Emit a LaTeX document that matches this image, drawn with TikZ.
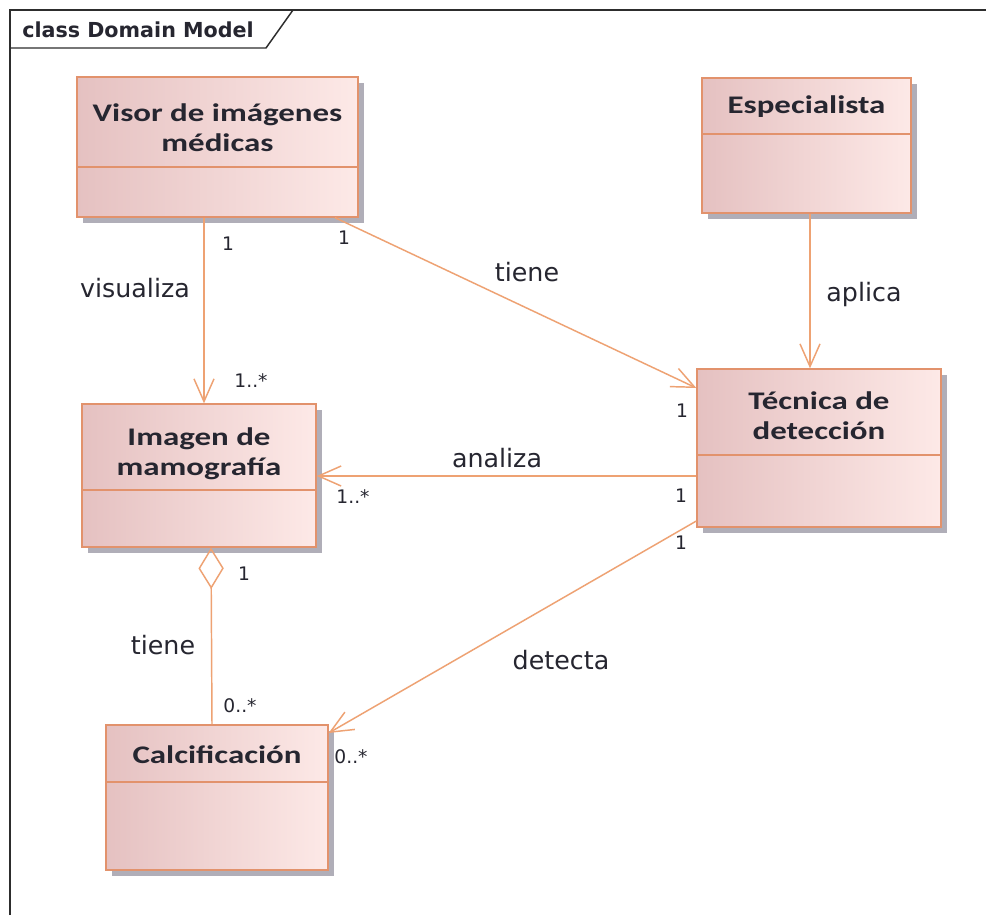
\documentclass[tikz,border=0pt]{standalone}
\usepackage{fontspec}
\setmainfont{DejaVu Sans}
\newfontfamily\classfont[FakeStretch=1.3]{Carlito}
\newfontfamily\framefont{DejaVu Sans}
\usetikzlibrary{arrows.meta,shadows}

\definecolor{assoc}{RGB}{238,162,115}
\definecolor{boxline}{RGB}{226,146,108}
\definecolor{boxL}{RGB}{229,193,193}
\definecolor{boxR}{RGB}{253,233,231}
\definecolor{shadowgray}{RGB}{176,174,184}
\definecolor{txt}{RGB}{38,38,48}
\definecolor{frameline}{RGB}{45,45,45}

\tikzset{
  classbox/.style={draw=boxline, line width=1pt, left color=boxL, right color=boxR,
    drop shadow={shadow xshift=4.5pt, shadow yshift=-4.5pt, fill=shadowgray, opacity=1},
    inner sep=0pt},
  classtitle/.style={font=\classfont\bfseries\fontsize{19}{22.5}\selectfont,
    align=center, text=txt, inner sep=0pt},
  divider/.style={draw=boxline, line width=1pt},
  assocline/.style={draw=assoc, line width=1.1pt},
  navarrow/.style={-{Straight Barb[length=17pt,width=15pt,line width=1.1pt]}},
  aggregate/.style={{Diamond[open,length=31pt,width=19pt,line width=1.1pt]}-},
  rolename/.style={font=\fontsize{19}{21}\selectfont, text=txt, inner sep=0pt},
  mult/.style={font=\fontsize{14}{16}\selectfont, text=txt, inner sep=0pt},
}

\begin{document}
\begin{tikzpicture}[x=0.75pt,y=-0.75pt]
  \useasboundingbox[fill=white] (0,0) rectangle (986,915);

  % diagram frame with its name tab
  \draw[draw=frameline, line width=1.1pt] (10,915) -- (10,10) -- (986,10);
  \draw[draw=frameline, line width=1.1pt] (10,48) -- (266,48) -- (293,10);
  \node[font=\framefont\bfseries\fontsize{15.5}{17}\selectfont, text=txt, anchor=west, inner sep=0pt]
    (frametitle) at (22,30) {class Domain Model};

  % classes
  \node[classbox, minimum width=210.75pt, minimum height=105pt] (visor) at (217.5,147) {};
  \draw[divider] (visor.west |- 0,167) -- (visor.east |- 0,167);
  \node[classtitle] (visortitle) at (217.5,128) {Visor de imágenes\\médicas};

  \node[classbox, minimum width=156.75pt, minimum height=101.25pt] (esp) at (806.5,145.5) {};
  \draw[divider] (esp.west |- 0,134) -- (esp.east |- 0,134);
  \node[classtitle] (esptitle) at (806.5,107) {Especialista};

  \node[classbox, minimum width=183pt, minimum height=118.5pt] (tec) at (819,448) {};
  \draw[divider] (tec.west |- 0,455) -- (tec.east |- 0,455);
  \node[classtitle] (tectitle) at (819,416) {Técnica de\\detección};

  \node[classbox, minimum width=175.5pt, minimum height=107.25pt] (img) at (199,475.5) {};
  \draw[divider] (img.west |- 0,490) -- (img.east |- 0,490);
  \node[classtitle] (imgtitle) at (199,454) {Imagen de\\mamografía};

  \node[classbox, minimum width=166.5pt, minimum height=108.75pt] (calc) at (217,797.5) {};
  \draw[divider] (calc.west |- 0,782) -- (calc.east |- 0,782);
  \node[classtitle] (calctitle) at (217,755) {Calcificación};

  % associations
  \draw[assocline, navarrow] (204,0 |- visor.south) -- (204,0 |- img.north);
  \draw[assocline, navarrow] (335,0 |- visor.south) -- (tec.west |- 0,388);
  \draw[assocline, navarrow] (810,0 |- esp.south) -- (810,0 |- tec.north);
  \draw[assocline, navarrow] (tec.west |- 0,476) -- (img.east |- 0,476);
  \draw[assocline, navarrow] (tec.west |- 0,521) -- (calc.east |- 0,733);
  \draw[assocline, aggregate] (211,0 |- img.south) -- (212,0 |- calc.north);

  % role names
  \node[rolename] (lvisualiza) at (135,288) {visualiza};
  \node[rolename] (ltiene1) at (527,272) {tiene};
  \node[rolename] (laplica) at (864,295) {aplica};
  \node[rolename] (lanaliza) at (497,458) {analiza};
  \node[rolename] (ldetecta) at (561,660) {detecta};
  \node[rolename] (ltiene2) at (163,645) {tiene};

  % multiplicities
  \node[mult] (m1) at (228,244) {1};
  \node[mult] (m2) at (344,238) {1};
  \node[mult] (m3) at (251,381) {1..*};
  \node[mult] (m4) at (682,411) {1};
  \node[mult] (m5) at (353,497) {1..*};
  \node[mult] (m6) at (681,496) {1};
  \node[mult] (m7) at (681,543) {1};
  \node[mult] (m8) at (244,574) {1};
  \node[mult] (m9) at (240,706) {0..*};
  \node[mult] (m10) at (351,757) {0..*};
\end{tikzpicture}
\end{document}
